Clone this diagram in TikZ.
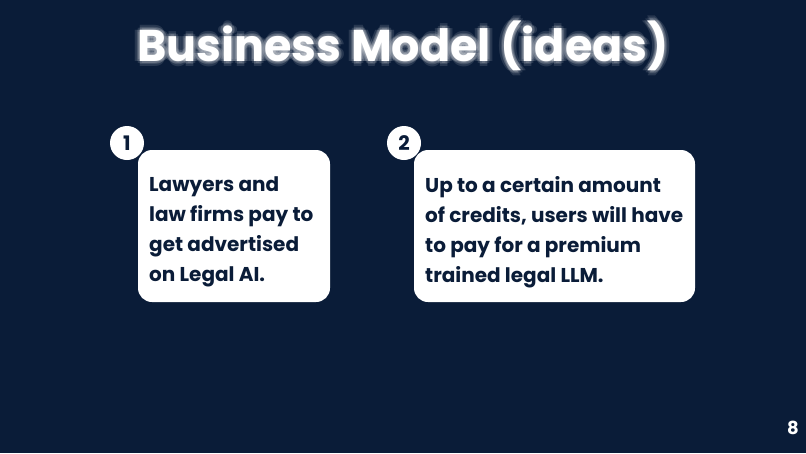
\documentclass[tikz,border=0pt]{standalone}
\usepackage{fontspec}
\setmainfont{Poppins}
\usetikzlibrary{positioning}
\definecolor{navy}{HTML}{0A1C38}
\tikzset{
  card/.style={fill=white, rounded corners=14pt, inner sep=0pt},
  badge/.style={circle, fill=white, minimum size=34pt, inner sep=0pt, text=navy, font=\bfseries\fontsize{20}{20}\selectfont},
  cardtext/.style={text=navy, align=left, anchor=north west, inner sep=0pt, font=\bfseries\fontsize{20}{30}\selectfont},
  glow/.style={text=white, opacity=0.12, font=\bfseries\fontsize{44.5}{44.5}\selectfont}
}
\begin{document}
\begin{tikzpicture}[x=1pt, y=-1pt]
\fill[navy] (0,0) rectangle (806,453);
\useasboundingbox (0,0) rectangle (806,453);

% title with glow
\foreach \dx/\dy in {-3/0,3/0,0/-3,0/3,-2/-2,2/2,-2/2,2/-2,-5/0,5/0,0/5,0/-5}
  \node[glow] at (403+\dx,46+\dy) {Business Model (ideas)};
\node[text=white, font=\bfseries\fontsize{44.5}{44.5}\selectfont] (title) at (403,46) {Business Model (ideas)};

% cards
\fill[card] (138,150) rectangle (330,302);
\fill[card] (414,150) rectangle (695,302);
\node[badge] (b1) at (127,143) {1};
\node[badge] (b2) at (404,143) {2};

\node[cardtext] (t1) at (149,176) {Lawyers and\\law firms pay to\\get advertised\\on Legal AI.};
\node[cardtext] (t2) at (425,176) {Up to a certain amount\\of credits, users will have\\to pay for a premium\\trained legal LLM.};

\node[text=white, font=\bfseries\fontsize{18}{18}\selectfont] (page) at (793,428) {8};
\end{tikzpicture}
\end{document}
